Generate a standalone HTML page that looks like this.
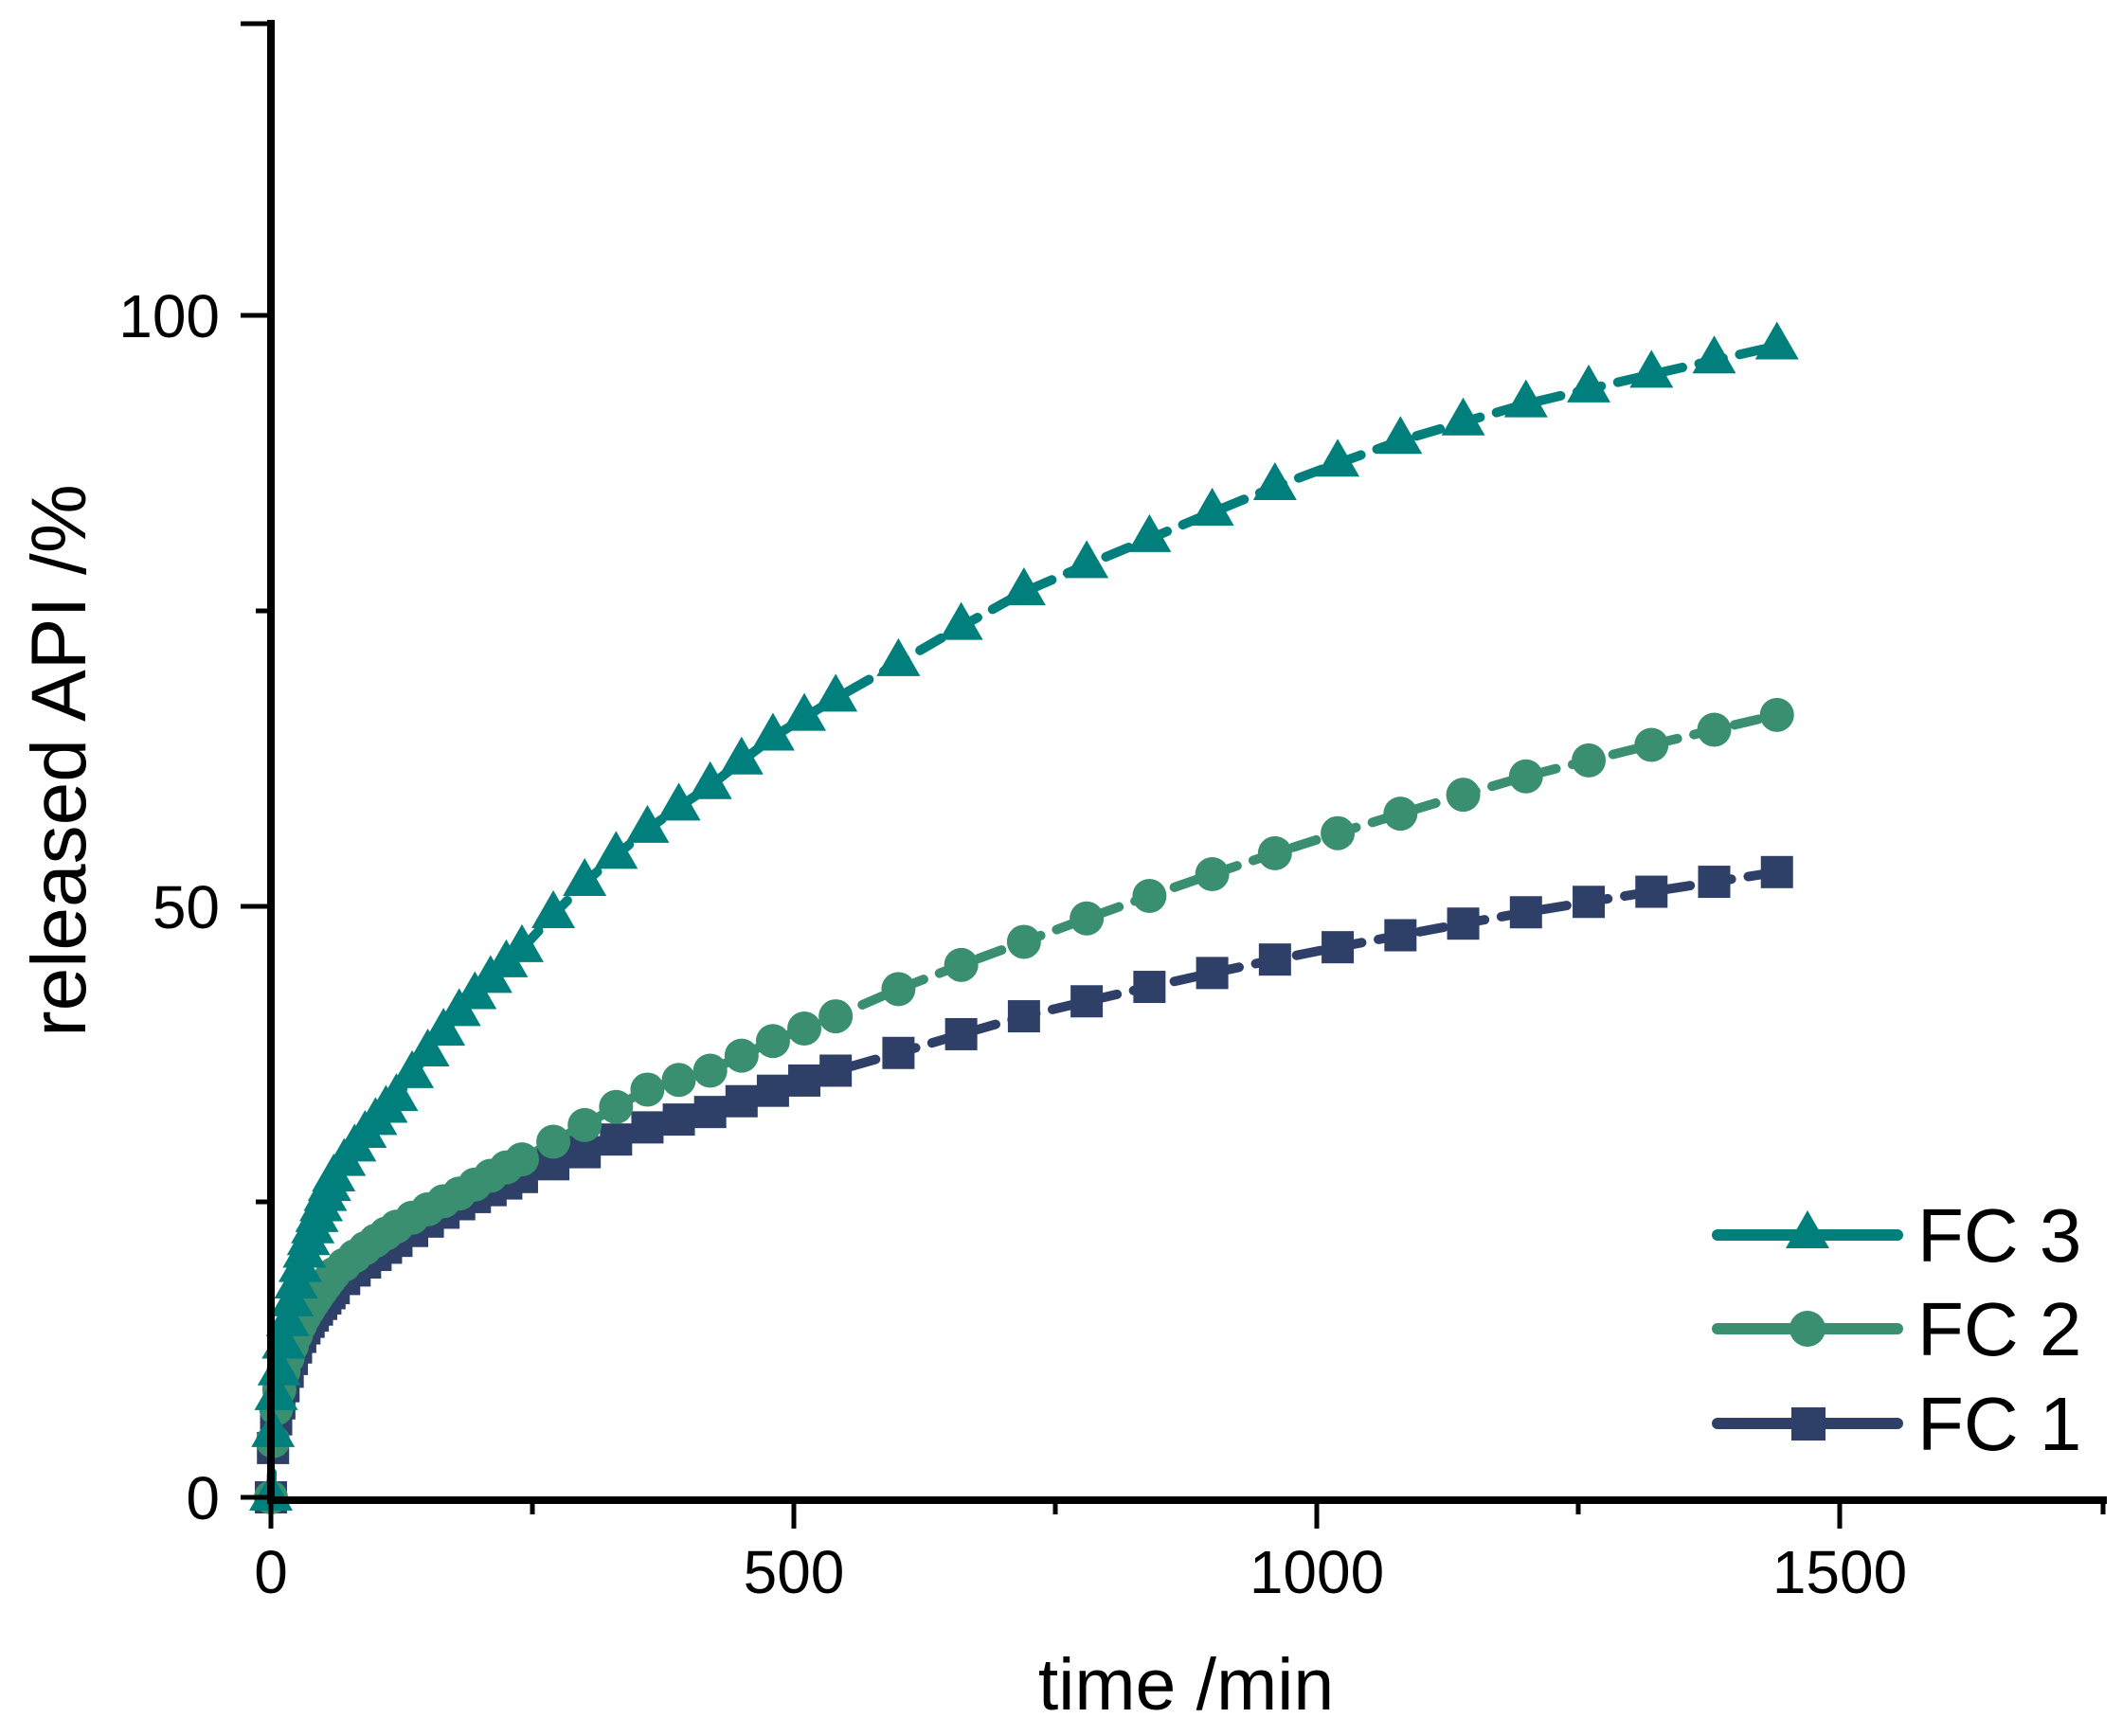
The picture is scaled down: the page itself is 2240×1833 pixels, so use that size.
<!DOCTYPE html>
<html><head><meta charset="utf-8"><style>
html,body{margin:0;padding:0;background:#fff;}
svg{display:block;}
text{font-family:"Liberation Sans",Arial,sans-serif;fill:#000;}
</style></head><body>
<svg id="s" width="2240" height="1833" viewBox="0 0 2240 1833" xmlns="http://www.w3.org/2000/svg">
<g id="data"></g>
<!-- axes -->
<line x1="286" y1="21" x2="286" y2="1584" stroke="#000" stroke-width="8"/>
<line x1="282" y1="1584" x2="2224" y2="1584" stroke="#000" stroke-width="8"/>
<line x1="254" y1="25" x2="286" y2="25" stroke="#000" stroke-width="5"/>
<g stroke="#000" stroke-width="5">
<line x1="254" y1="333" x2="286" y2="333"/>
<line x1="254" y1="957" x2="286" y2="957"/>
<line x1="254" y1="1581" x2="286" y2="1581"/>
<line x1="270" y1="645" x2="286" y2="645"/>
<line x1="270" y1="1269" x2="286" y2="1269"/>
<line x1="286" y1="1584" x2="286" y2="1614"/>
<line x1="838" y1="1584" x2="838" y2="1614"/>
<line x1="1390" y1="1584" x2="1390" y2="1614"/>
<line x1="1942" y1="1584" x2="1942" y2="1614"/>
<line x1="562" y1="1584" x2="562" y2="1599"/>
<line x1="1114" y1="1584" x2="1114" y2="1599"/>
<line x1="1666" y1="1584" x2="1666" y2="1599"/>
<line x1="2220" y1="1584" x2="2220" y2="1599"/>
</g>
<g font-size="64" text-anchor="end">
<text x="232" y="356">100</text>
<text x="232" y="980">50</text>
<text x="232" y="1604">0</text>
</g>
<g font-size="64" text-anchor="middle">
<text x="286" y="1682">0</text>
<text x="838" y="1682">500</text>
<text x="1390" y="1682">1000</text>
<text x="1942" y="1682">1500</text>
</g>
<text x="1252" y="1805" font-size="77" text-anchor="middle">time /min</text>
<text x="0" y="0" font-size="82" text-anchor="middle" transform="translate(90,803) rotate(-90)">released API /%</text>
<!-- legend -->
<g stroke-width="12" stroke-linecap="round">
<line x1="1813" y1="1304" x2="2003" y2="1304" stroke="#007f7c"/>
<line x1="1813" y1="1403" x2="2003" y2="1403" stroke="#3a8f70"/>
<line x1="1813" y1="1503" x2="2003" y2="1503" stroke="#2f4068"/>
</g>
<polygon points="1908,1278 1931,1318 1885,1318" fill="#007f7c"/>
<circle cx="1908" cy="1403" r="19" fill="#3a8f70"/>
<rect x="1891" y="1486" width="36" height="35" fill="#2f4068"/>
<g font-size="80">
<text x="2024" y="1332">FC 3</text>
<text x="2024" y="1431">FC 2</text>
<text x="2024" y="1531">FC 1</text>
</g>
</svg>
<script>
var NS="http://www.w3.org/2000/svg";
function X(t){return 286+t*1.104;}
function Y(v){return 1581-v*12.48;}
var A={
3:[[0,0],[5,8.5],[30,20],[60,27],[120,33.8],[180,41],[240,46.4],[300,52],[360,56.5],[420,60.2],[480,64.3],[540,67.6],[600,70.6],[720,76.6],[840,81.1],[960,85.5],[1080,89.4],[1200,92.5],[1320,95],[1440,97.4]],
2:[[0,0],[5,7.5],[10,10],[30,15],[60,18.9],[120,22.9],[180,25.7],[240,28.6],[300,31.5],[360,34.5],[420,36.1],[480,38.6],[540,40.7],[600,43],[720,47],[960,54.5],[1200,61],[1440,66.2]],
1:[[0,0],[5,6.6],[30,14],[60,17.7],[120,21.7],[180,24.8],[240,27.1],[300,29.2],[360,31.3],[420,32.6],[480,34.4],[540,36.1],[600,37.6],[720,40.7],[960,45.5],[1200,49.5],[1440,52.9]]};
function val(k,t){var a=A[k];for(var i=1;i<a.length;i++){if(t<=a[i][0]){var p=a[i-1],q=a[i];var f=(Math.sqrt(t)-Math.sqrt(p[0]))/(Math.sqrt(q[0])-Math.sqrt(p[0]));return p[1]+f*(q[1]-p[1]);}}return a[a.length-1][1];}
var T=[0,2,5];for(var t=8;t<=60;t+=4)T.push(t);for(t=70;t<=120;t+=10)T.push(t);for(t=135;t<=240;t+=15)T.push(t);for(t=270;t<=540;t+=30)T.push(t);for(t=600;t<=1440;t+=60)T.push(t);
var C={3:"#007f7c",2:"#3a8f70",1:"#2f4068"};
var g=document.getElementById("data");
[1,2,3].forEach(function(k){
 var d="";T.forEach(function(t,i){d+=(i?"L":"M")+X(t).toFixed(1)+","+Y(val(k,t)).toFixed(1);});
 var p=document.createElementNS(NS,"path");p.setAttribute("d",d);p.setAttribute("fill","none");p.setAttribute("stroke",C[k]);p.setAttribute("stroke-width","10");p.setAttribute("stroke-dasharray","26 18");p.setAttribute("stroke-linecap","round");g.appendChild(p);
});
[1,2,3].forEach(function(k){
 T.forEach(function(t){var x=X(t),y=Y(val(k,t)),e;
  if(k==3){e=document.createElementNS(NS,"polygon");e.setAttribute("points",x+","+(y-26)+" "+(x+23)+","+(y+14)+" "+(x-23)+","+(y+14));}
  else if(k==2){e=document.createElementNS(NS,"circle");e.setAttribute("cx",x);e.setAttribute("cy",y);e.setAttribute("r",18);}
  else{e=document.createElementNS(NS,"rect");e.setAttribute("x",x-17);e.setAttribute("y",y-17);e.setAttribute("width",34);e.setAttribute("height",34);}
  e.setAttribute("fill",C[k]);g.appendChild(e);});
});
</script>
</body></html>
